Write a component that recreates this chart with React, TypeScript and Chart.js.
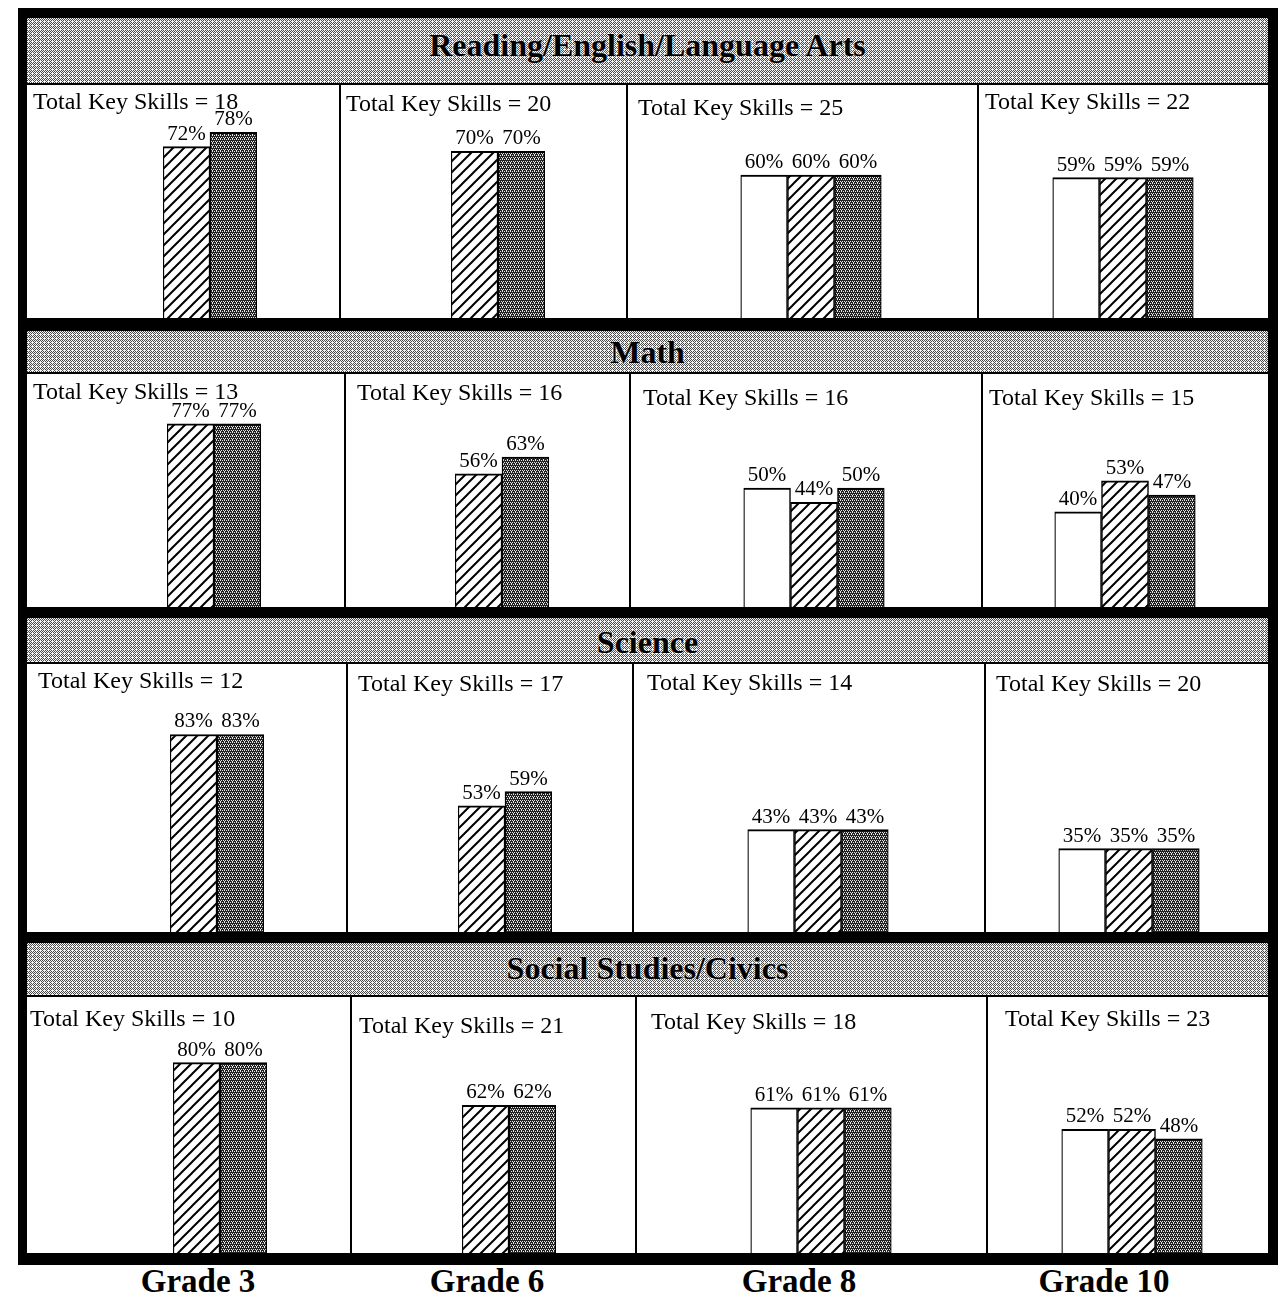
import React, { useEffect, useMemo, useRef } from 'react';
import { Chart, registerables } from 'chart.js';

Chart.register(...registerables);

// ---------- data ----------
const subjects = ['Reading/English/Language Arts', 'Math', 'Science', 'Social Studies/Civics'];
const grades = ['Grade 3', 'Grade 6', 'Grade 8', 'Grade 10'];
const totalKeySkills = [
  [18, 20, 25, 22],
  [13, 16, 16, 15],
  [12, 17, 14, 20],
  [10, 21, 18, 23],
];
// open (white) bars appear only for grades 8 and 10
const openBarValues: (number | null)[][] = [
  [null, null, 60, 59],
  [null, null, 50, 40],
  [null, null, 43, 35],
  [null, null, 61, 52],
];
const hatchedBarValues = [
  [72, 70, 60, 59],
  [77, 56, 44, 53],
  [83, 53, 43, 35],
  [80, 62, 61, 52],
];
const shadedBarValues = [
  [78, 70, 60, 59],
  [77, 63, 50, 47],
  [83, 59, 43, 35],
  [80, 62, 61, 48],
];

// ---------- layout (positions only) ----------
const FRAME = { x0: 18, y0: 8, x1: 1278, y1: 1265 };
const INNER_X0 = 27;
const INNER_X1 = 1268;
const headerBands = [
  [18, 83],
  [331, 372],
  [618, 662],
  [943, 995],
];
const headerTextShift = [-6, 0, 2, -1];
const cellBands = [
  [85, 318],
  [374, 607],
  [664, 932],
  [997, 1253],
];
const cellColumns = [
  [[27, 339], [341, 626], [628, 977], [979, 1268]],
  [[27, 344], [346, 629], [631, 981], [983, 1268]],
  [[27, 346], [348, 632], [634, 984], [986, 1268]],
  [[27, 350], [352, 635], [637, 986], [988, 1268]],
];
const groupCenters = [
  [210, 498, 811, 1123],
  [214, 502, 814, 1125],
  [217, 505, 818, 1129],
  [220, 509, 821, 1132],
];
const titlePos = [
  [[33, 103], [346, 105], [638, 109], [985, 103]],
  [[33, 393], [357, 394], [643, 399], [989, 399]],
  [[38, 682], [358, 685], [647, 684], [996, 685]],
  [[30, 1020], [359, 1027], [651, 1023], [1005, 1020]],
];
const gradeLabelX = [198, 487, 799, 1104];
const gradeLabelY = 1281;
const BAR_W = 47;
const PX_PER_PCT = 2.38;
const SERIF = "'Liberation Serif', 'Times New Roman', serif";

// ---------- patterns ----------
function makeHatch(): CanvasPattern | string {
  const s = 11;
  const c = document.createElement('canvas');
  c.width = s;
  c.height = s;
  const g = c.getContext('2d');
  if (!g) return '#fff';
  g.fillStyle = '#fff';
  g.fillRect(0, 0, s, s);
  g.strokeStyle = '#000';
  g.lineWidth = 2;
  g.beginPath();
  g.moveTo(0, s); g.lineTo(s, 0);
  g.moveTo(-s / 2, s / 2); g.lineTo(s / 2, -s / 2);
  g.moveTo(s / 2, s * 1.5); g.lineTo(s * 1.5, s / 2);
  g.stroke();
  return g.createPattern(c, 'repeat') || '#fff';
}

function makeStipple(): CanvasPattern | string {
  const c = document.createElement('canvas');
  c.width = 4;
  c.height = 4;
  const g = c.getContext('2d');
  if (!g) return '#444';
  g.fillStyle = '#222';
  g.fillRect(0, 0, 4, 4);
  g.fillStyle = '#e6e6e6';
  [[0, 0], [2, 0], [1, 2], [3, 2], [1, 1]].forEach(([x, y]) => g.fillRect(x, y, 1, 1));
  return g.createPattern(c, 'repeat') || '#444';
}

function makeHeaderTile(): string {
  const c = document.createElement('canvas');
  c.width = 4;
  c.height = 4;
  const g = c.getContext('2d');
  if (!g) return '';
  g.fillStyle = '#f4f4f4';
  g.fillRect(0, 0, 4, 4);
  g.fillStyle = '#4a4a4a';
  [[0, 0], [2, 0], [1, 1], [3, 1], [0, 2], [2, 2], [3, 3]].forEach(([x, y]) => g.fillRect(x, y, 1, 1));
  return c.toDataURL();
}

function Cell({ row, col }: { row: number; col: number }) {
  const ref = useRef<HTMLCanvasElement | null>(null);
  const [x0, x1] = cellColumns[row][col];
  const [y0, y1] = cellBands[row];
  const w = x1 - x0;
  const h = y1 - y0;

  useEffect(() => {
    if (!ref.current) return;
    const hatch = makeHatch();
    const stipple = makeStipple();
    const border = { top: 2, left: 1.5, right: 1.5, bottom: 0 };
    const datasets: any[] = [];
    const open = openBarValues[row][col];
    if (open !== null) {
      datasets.push({ label: 'open', data: [open], backgroundColor: '#fff' });
    }
    datasets.push({ label: 'hatched', data: [hatchedBarValues[row][col]], backgroundColor: hatch });
    datasets.push({ label: 'shaded', data: [shadedBarValues[row][col]], backgroundColor: stipple });
    datasets.forEach((d) => {
      d.borderColor = '#000';
      d.borderWidth = border;
      d.barPercentage = 1;
      d.categoryPercentage = 1;
    });
    const n = datasets.length;
    const cx = groupCenters[row][col];
    const padLeft = cx - (n * BAR_W) / 2 - x0;
    const padRight = x1 - (cx + (n * BAR_W) / 2);
    const [tx, ty] = titlePos[row][col];
    const total = totalKeySkills[row][col];

    const labelPlugin = {
      id: 'cellLabels',
      afterDatasetsDraw(chart: any) {
        const ctx = chart.ctx as CanvasRenderingContext2D;
        ctx.save();
        ctx.fillStyle = '#000';
        ctx.font = `21px ${SERIF}`;
        ctx.textAlign = 'center';
        ctx.textBaseline = 'alphabetic';
        chart.data.datasets.forEach((ds: any, i: number) => {
          const meta = chart.getDatasetMeta(i);
          meta.data.forEach((el: any, j: number) => {
            const v = ds.data[j];
            if (v === null || v === undefined) return;
            ctx.fillText(`${v}%`, el.x, el.y - 7);
          });
        });
        ctx.font = `24px ${SERIF}`;
        ctx.textAlign = 'left';
        ctx.textBaseline = 'middle';
        ctx.fillText(`Total Key Skills = ${total}`, tx - x0, ty - y0);
        ctx.restore();
      },
    };

    const chart = new Chart(ref.current, {
      type: 'bar',
      data: { labels: [grades[col]], datasets },
      options: {
        animation: false,
        responsive: false,
        maintainAspectRatio: false,
        devicePixelRatio: 1,
        layout: { padding: { left: padLeft, right: padRight, top: 0, bottom: 0 } },
        plugins: {
          legend: { display: false },
          tooltip: { enabled: false },
          title: { display: false },
        },
        scales: {
          x: { display: false },
          y: { display: false, min: 0, max: h / PX_PER_PCT },
        },
      },
      plugins: [labelPlugin],
    } as any);
    return () => chart.destroy();
  }, [row, col]);

  return (
    <canvas
      ref={ref}
      width={w}
      height={h}
      style={{ position: 'absolute', left: x0, top: y0, width: w, height: h, background: '#fff' }}
    />
  );
}

export default function App() {
  const headerTile = useMemo(() => makeHeaderTile(), []);
  return (
    <div style={{ position: 'absolute', left: 0, top: 0, width: 1281, height: 1297, background: '#fff', overflow: 'hidden' }}>
      <div
        style={{
          position: 'absolute',
          left: FRAME.x0,
          top: FRAME.y0,
          width: FRAME.x1 - FRAME.x0,
          height: FRAME.y1 - FRAME.y0,
          background: '#000',
        }}
      />
      {headerBands.map(([a, b], i) => (
        <div
          key={`h${i}`}
          style={{
            position: 'absolute',
            left: INNER_X0,
            top: a,
            width: INNER_X1 - INNER_X0,
            height: b - a,
            backgroundColor: '#cfcfcf',
            backgroundImage: headerTile ? `url(${headerTile})` : 'none',
            backgroundRepeat: 'repeat',
            imageRendering: 'pixelated',
            display: 'flex',
            alignItems: 'center',
            justifyContent: 'center',
            fontFamily: SERIF,
            fontWeight: 'bold',
            fontSize: 32,
            color: '#000',
            lineHeight: 1,
          }}
        >
          <span style={{ position: 'relative', top: headerTextShift[i], textShadow: '0 0 2px #fff' }}>{subjects[i]}</span>
        </div>
      ))}
      {subjects.map((_, r) => grades.map((__, c) => <Cell key={`c${r}-${c}`} row={r} col={c} />))}
      {grades.map((g, i) => (
        <div
          key={`g${i}`}
          style={{
            position: 'absolute',
            left: gradeLabelX[i],
            top: gradeLabelY,
            transform: 'translate(-50%, -50%)',
            fontFamily: SERIF,
            fontWeight: 'bold',
            fontSize: 33,
            whiteSpace: 'nowrap',
            lineHeight: 1,
            color: '#000',
          }}
        >
          {g}
        </div>
      ))}
    </div>
  );
}
